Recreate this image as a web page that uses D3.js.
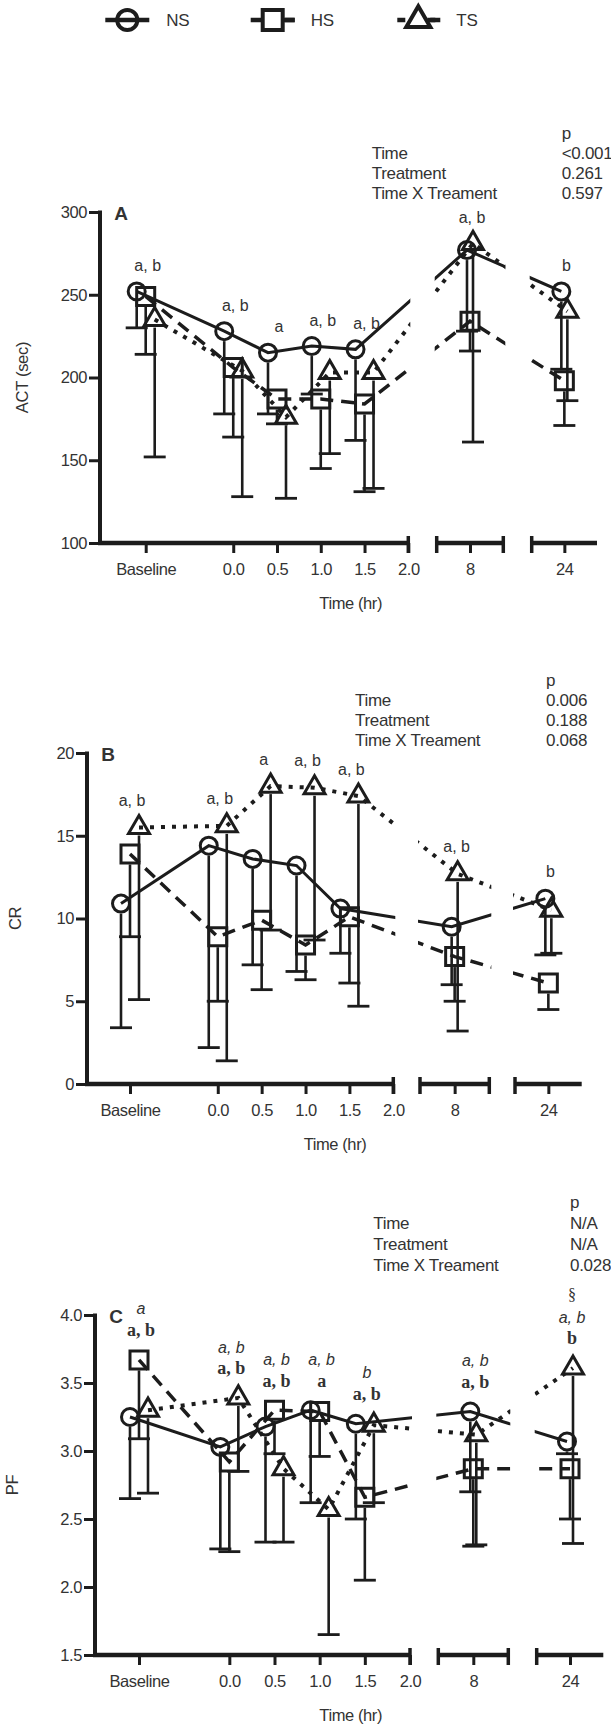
<!DOCTYPE html>
<html>
<head>
<meta charset="utf-8">
<script src="https://cdn.jsdelivr.net/npm/d3@7"></script>
<style>
  body { margin: 0; background: #fff; }
  text { font-family: "Liberation Sans", Arial, sans-serif; fill: #333; }
</style>
</head>
<body>
<div id="chart"></div>
<script>
// ---- data ----
const times = [-1, 0, 0.5, 1, 1.5, 8, 24];            // -1 = Baseline
const tickValues = [-1, 0, 0.5, 1, 1.5, 2, 8, 24];
const tickLabels = ["Baseline", "0.0", "0.5", "1.0", "1.5", "2.0", "8", "24"];
const seriesNames = ["NS", "HS", "TS"];

// A: ACT (sec), mean and lower SD
const actNS    = [252, 228, 215, 219, 217, 277, 252];
const actNSlow = [230, 178, 178, 190, 162, 228, 205];
const actHS    = [249, 206, 187, 187, 184, 234, 198];
const actHSlow = [214, 164, 172, 145, 131, 216, 171];
const actTS    = [235, 204, 176, 203, 203, 281, 240];
const actTSlow = [152, 128, 127, 154, 133, 161, 186];
const actMarks = ["a, b", "a, b", "a", "a, b", "a, b", "a, b", "b"];
const actPValues = ["<0.001", "0.261", "0.597"];

// B: CR
const crNS    = [10.9, 14.4, 13.6, 13.2, 10.6, 9.5, 11.2];
const crNSlow = [3.4, 2.2, 7.2, 6.8, 7.9, 6.0, 7.8];
const crHS    = [13.9, 8.9, 9.9, 8.4, 10.1, 7.7, 6.1];
const crHSlow = [8.9, 5.0, 5.7, 6.3, 6.1, 5.0, 4.5];
const crTS    = [15.5, 15.6, 18.0, 17.9, 17.4, 12.7, 10.5];
const crTSlow = [5.1, 1.4, 9.3, 8.7, 4.7, 3.2, 7.9];
const crMarks = ["a, b", "a, b", "a", "a, b", "a, b", "a, b", "b"];
const crPValues = ["0.006", "0.188", "0.068"];

// C: PF
const pfNS    = [3.25, 3.03, 3.18, 3.30, 3.20, 3.29, 3.07];
const pfNSlow = [2.65, 2.28, 2.33, 2.62, 2.50, 2.70, 2.98];
const pfHS    = [3.67, 2.92, 3.30, 3.29, 2.66, 2.87, 2.87];
const pfHSlow = [3.09, 2.26, 2.98, 2.96, 2.05, 2.30, 2.50];
const pfTS    = [3.30, 3.39, 2.87, 2.57, 3.19, 3.12, 3.61];
const pfTSlow = [2.69, 2.85, 2.33, 1.65, 2.62, 2.31, 2.32];
const pfMarksBold   = ["a, b", "a, b", "a, b", "a", "a, b", "a, b", "b"];
const pfMarksItalic = ["a", "a, b", "a, b", "a, b", "b", "a, b", "a, b"];
const pfMarksTop    = ["", "", "", "", "", "", "§"];
const pfPValues = ["N/A", "N/A", "0.028"];

const pLabels = ["Time", "Treatment", "Time X Treament"];

// ---- styles ----
const ink = "#1c1c1c";
const dashes = [null, "13,8", "4,7"];
const lineWidths = [3, 3.5, 4];
const symbols = [d3.symbolCircle, d3.symbolSquare, d3.symbolTriangle];
const symbolSizes = [227, 324, 190];

const width = 611, height = 1725;

const panels = [
  { letter: "A", yTitle: "ACT (sec)", yDomain: [100, 300], yTicks: [100, 150, 200, 250, 300],
    yTop: 212, yBottom: 543, axisX: 100, xBase: 145.7, x2: 408.3,
    seg2: [436.7, 503.3], seg3: [531.7, 597], yTitleX: 22, xTitleX: 350.7,
    mean: [actNS, actHS, actTS], low: [actNSlow, actHSlow, actTSlow],
    rows: [{ marks: actMarks, off: 26 }], pValues: actPValues,
    pt: { x1: 371.7, x2: 561.7, y: 133, dy: 20 } },
  { letter: "B", yTitle: "CR", yDomain: [0, 20], yTicks: [0, 5, 10, 15, 20],
    yTop: 753, yBottom: 1084, axisX: 87, xBase: 130, x2: 393.3,
    seg2: [420, 489.3], seg3: [515, 581.7], yTitleX: 15, xTitleX: 335,
    mean: [crNS, crHS, crTS], low: [crNSlow, crHSlow, crTSlow],
    rows: [{ marks: crMarks, off: 27 }], pValues: crPValues,
    pt: { x1: 355, x2: 546, y: 680, dy: 20 } },
  { letter: "C", yTitle: "PF", yDomain: [1.5, 4.0], yTicks: [1.5, 2.0, 2.5, 3.0, 3.5, 4.0],
    yTop: 1315, yBottom: 1655, axisX: 95, xBase: 139, x2: 410,
    seg2: [438.3, 508.3], seg3: [536.7, 603.3], yTitleX: 12, xTitleX: 350.7,
    mean: [pfNS, pfHS, pfTS], low: [pfNSlow, pfHSlow, pfTSlow],
    rows: [
      { marks: pfMarksBold, off: 30, font: '"Liberation Serif", "Times New Roman", serif', weight: "bold", size: 18 },
      { marks: pfMarksItalic, off: 51, style: "italic" },
      { marks: pfMarksTop, off: 74, font: '"Liberation Serif", "Times New Roman", serif' }
    ],
    pValues: pfPValues,
    pt: { x1: 373.3, x2: 570, y: 1201.7, dy: 21 } }
];

const svg = d3.select("#chart").append("svg")
    .attr("width", width)
    .attr("height", height);

// ---- legend ----
const legendX = [127.3, 272.7, 418.3];
const legend = svg.append("g").attr("transform", "translate(0,20)");
seriesNames.forEach((name, s) => {
  const g = legend.append("g").attr("transform", `translate(${legendX[s]},0)`);
  g.append("line")
      .attr("x1", -22).attr("x2", 22)
      .attr("stroke", ink).attr("stroke-width", 4.5)
      .attr("stroke-dasharray", s === 1 ? "11,22" : s === 2 ? "8,22" : null)
      .attr("stroke-dashoffset", s === 1 ? 0 : s === 2 ? -1 : 0);
  if (s > 0) {
    g.append("line").attr("x1", 12).attr("x2", 22)
        .attr("stroke", ink).attr("stroke-width", 4.5);
  }
  g.append("path")
      .attr("d", d3.symbol().type(symbols[s]).size(s === 2 ? 250 : s === 1 ? 400 : 320)())
      .attr("fill", "none").attr("stroke", ink).attr("stroke-width", 4);
  g.append("text")
      .attr("x", legendX[s] === 127.3 ? 39 : 38)
      .attr("dy", "0.35em")
      .style("font-size", "17px")
      .style("letter-spacing", "-0.3px")
      .text(name);
});

panels.forEach(drawPanel);

function drawPanel(p, pi) {
  const x = d3.scaleLinear()
      .domain([-1, 2, 7.5, 8.5, 23.5, 24.5])
      .range([p.xBase, p.x2, p.seg2[0], p.seg2[1], p.seg3[0], p.seg3[1]]);
  const y = d3.scaleLinear().domain(p.yDomain).range([p.yBottom, p.yTop]);
  const off = (i, s) => (times[i] < 8 ? [-9, 0, 9] : [-3, 0, 3])[s];
  const px = (i, s) => x(times[i]) + off(i, s);

  const g = svg.append("g");

  // clip lines to the three axis segments
  const clipId = "clip" + pi;
  const clip = g.append("clipPath").attr("id", clipId);
  [[p.axisX, p.x2 + 2], [p.seg2[0] - 2, p.seg2[1] + 2], [p.seg3[0] - 2, width]].forEach(([a, b]) => {
    clip.append("rect").attr("x", a).attr("y", p.yTop - 100).attr("width", b - a).attr("height", p.yBottom - p.yTop + 100);
  });

  // y axis
  const yAxis = g.append("g")
      .attr("transform", `translate(${p.axisX},0)`)
      .call(d3.axisLeft(y).tickValues(p.yTicks).tickFormat(d => p.yDomain[1] < 10 ? d3.format(".1f")(d) : d)
        .tickSize(11).tickSizeOuter(0).tickPadding(2));
  yAxis.select(".domain").remove();
  yAxis.selectAll(".tick line").attr("stroke", ink).attr("stroke-width", 3);
  yAxis.selectAll(".tick text")
      .style("font-size", "16.5px").style("letter-spacing", "-0.4px")
      .attr("fill", "#333").style("font-family", '"Liberation Sans", Arial, sans-serif');
  g.append("line")
      .attr("x1", p.axisX).attr("x2", p.axisX)
      .attr("y1", p.yTop - 1.5).attr("y2", p.yBottom + 2)
      .attr("stroke", ink).attr("stroke-width", 4);

  // x axis in three segments
  const segs = [
    { from: p.axisX - 2, to: p.x2, ticks: tickValues.filter(t => t <= 2), bars: [p.x2] },
    { from: p.seg2[0], to: p.seg2[1], ticks: [8], bars: [p.seg2[0], p.seg2[1]] },
    { from: p.seg3[0], to: p.seg3[1], ticks: [24], bars: [p.seg3[0]] }
  ];
  segs.forEach(seg => {
    const ax = g.append("g")
        .attr("transform", `translate(0,${p.yBottom})`)
        .call(d3.axisBottom(x).tickValues(seg.ticks)
          .tickFormat(t => tickLabels[tickValues.indexOf(t)])
          .tickSize(10).tickSizeOuter(0).tickPadding(10));
    ax.select(".domain").remove();
    ax.selectAll(".tick line").attr("stroke", ink).attr("stroke-width", 3);
    ax.selectAll(".tick text")
        .style("font-size", "16.5px").style("letter-spacing", "-0.4px")
        .attr("fill", "#333").style("font-family", '"Liberation Sans", Arial, sans-serif');
    g.append("line")
        .attr("x1", seg.from).attr("x2", seg.to)
        .attr("y1", p.yBottom).attr("y2", p.yBottom)
        .attr("stroke", ink).attr("stroke-width", 4.5);
    seg.bars.forEach(b => {
      g.append("line")
          .attr("x1", b).attr("x2", b)
          .attr("y1", p.yBottom - 7).attr("y2", p.yBottom + 10)
          .attr("stroke", ink).attr("stroke-width", 3.5);
    });
  });

  // axis titles
  g.append("text")
      .attr("transform", `translate(${p.yTitleX},${(p.yTop + p.yBottom) / 2}) rotate(-90)`)
      .attr("text-anchor", "middle").attr("dy", "0.35em")
      .style("font-size", "16.5px").style("letter-spacing", "-0.3px")
      .text(p.yTitle);
  g.append("text")
      .attr("x", p.xTitleX).attr("y", p.yBottom + 60)
      .attr("text-anchor", "middle").attr("dy", "0.35em")
      .style("font-size", "16.5px").style("letter-spacing", "-0.4px")
      .text("Time (hr)");

  // panel letter
  g.append("text")
      .attr("x", p.axisX + 21).attr("y", p.yTop + 1)
      .attr("text-anchor", "middle").attr("dy", "0.36em")
      .style("font-size", "19px").style("font-weight", "bold")
      .attr("fill", "#111")
      .text(p.letter);

  // p table
  const pt = g.append("g").style("font-size", "17px").style("letter-spacing", "-0.3px");
  pt.append("text").attr("x", p.pt.x2).attr("y", p.pt.y).attr("dy", "0.35em").text("p");
  pLabels.forEach((lab, r) => {
    const yy = p.pt.y + p.pt.dy * (r + 1);
    pt.append("text").attr("x", p.pt.x1).attr("y", yy).attr("dy", "0.35em").text(lab);
    pt.append("text").attr("x", p.pt.x2).attr("y", yy).attr("dy", "0.35em").text(p.pValues[r]);
  });

  // connecting lines
  const lines = g.append("g").attr("clip-path", `url(#${clipId})`);
  p.mean.forEach((vals, s) => {
    const line = d3.line().x((d, i) => px(i, s)).y(d => y(d));
    lines.append("path")
        .attr("d", line(vals))
        .attr("fill", "none")
        .attr("stroke", ink)
        .attr("stroke-width", lineWidths[s])
        .attr("stroke-dasharray", dashes[s]);
  });

  // error bars (lower SD)
  const radius = [10, 10.5, 8];
  p.mean.forEach((vals, s) => {
    vals.forEach((v, i) => {
      const lo = p.low[s][i];
      const top = y(v) + radius[s];
      if (y(lo) <= top) return;
      g.append("line")
          .attr("x1", px(i, s)).attr("x2", px(i, s))
          .attr("y1", top).attr("y2", y(lo))
          .attr("stroke", ink).attr("stroke-width", 2.6);
      g.append("line")
          .attr("x1", px(i, s) - 11).attr("x2", px(i, s) + 11)
          .attr("y1", y(lo)).attr("y2", y(lo))
          .attr("stroke", ink).attr("stroke-width", 2.8);
    });
  });

  // markers
  p.mean.forEach((vals, s) => {
    g.append("g").selectAll("path")
      .data(vals)
      .join("path")
        .attr("transform", (d, i) => `translate(${px(i, s)},${y(d)})`)
        .attr("d", d3.symbol().type(symbols[s]).size(symbolSizes[s])())
        .attr("fill", "none")
        .attr("stroke", ink)
        .attr("stroke-width", 3);
  });

  // significance letters above each time point
  p.rows.forEach(row => {
    g.append("g").selectAll("text")
      .data(row.marks)
      .join("text")
        .attr("x", (d, i) => x(times[i]) + 2)
        .attr("y", (d, i) => y(d3.max(p.mean, m => m[i])) - row.off)
        .attr("text-anchor", "middle")
        .attr("dy", "0.35em")
        .style("font-size", (row.size || 16) + "px")
        .style("font-weight", row.weight || "normal")
        .style("font-style", row.style || "normal")
        .style("font-family", row.font || '"Liberation Sans", Arial, sans-serif')
        .attr("fill", row.weight ? "#222" : "#333")
        .text(d => d);
  });
}
</script>
</body>
</html>
